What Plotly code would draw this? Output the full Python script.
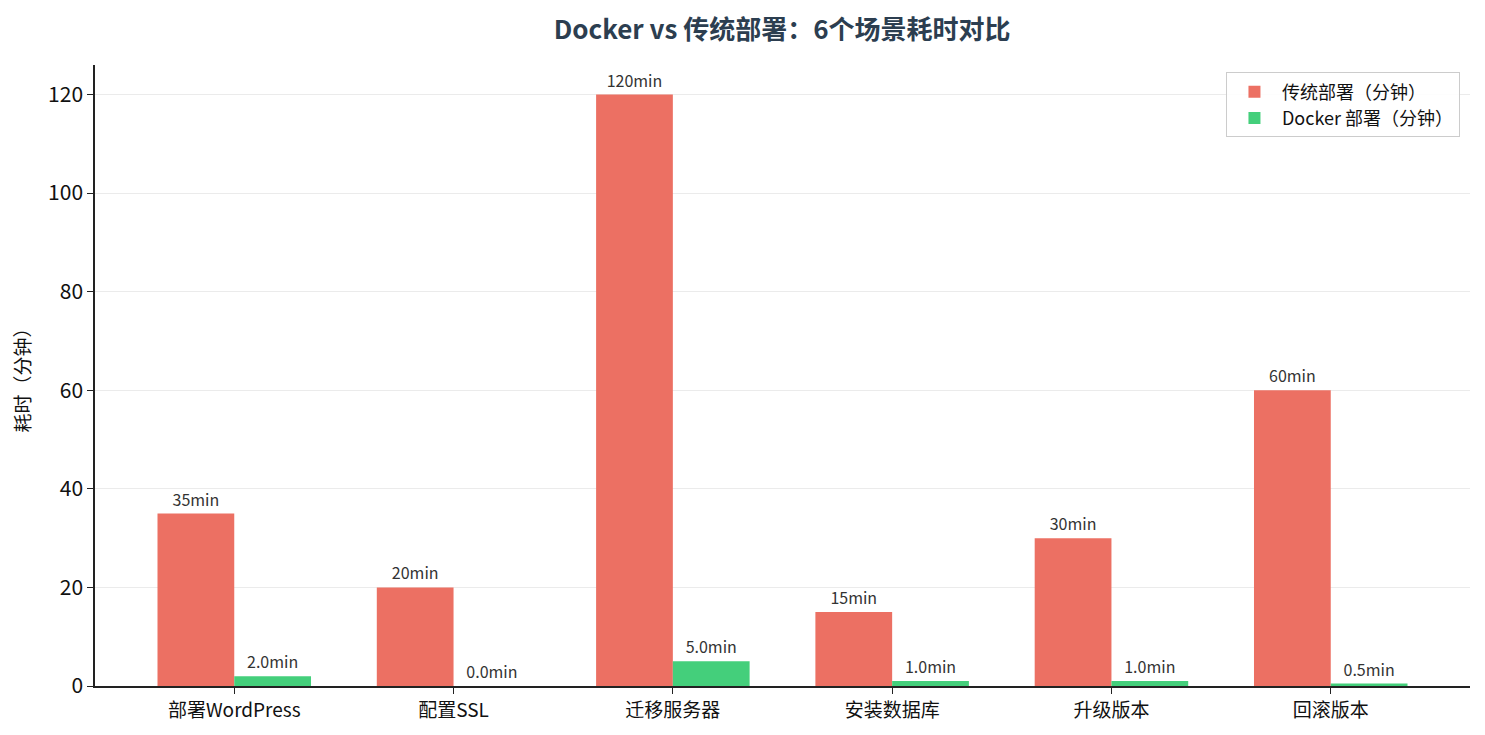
import plotly.graph_objects as go

# 场景与耗时数据（分钟）
scenarios = ["部署WordPress", "配置SSL", "迁移服务器", "安装数据库", "升级版本", "回滚版本"]
traditional_min = [35, 20, 120, 15, 30, 60]
docker_min = [2.0, 0.0, 5.0, 1.0, 1.0, 0.5]

FONT = "Noto Sans CJK SC"

fig = go.Figure()

fig.add_trace(go.Bar(
    x=scenarios,
    y=traditional_min,
    name="传统部署（分钟）",
    marker=dict(color="#EC7063", line=dict(width=0)),
    text=[f"{v}min" for v in traditional_min],
    textposition="outside",
    textfont=dict(size=16, color="#333333", family=FONT),
    cliponaxis=False,
))

fig.add_trace(go.Bar(
    x=scenarios,
    y=docker_min,
    name="Docker 部署（分钟）",
    marker=dict(color="#44CF7B", line=dict(width=0)),
    text=[f"{v:.1f}min" for v in docker_min],
    textposition="outside",
    textfont=dict(size=16, color="#333333", family=FONT),
    cliponaxis=False,
))

fig.update_layout(
    width=1469,
    height=719,
    paper_bgcolor="white",
    plot_bgcolor="white",
    font=dict(family=FONT, color="#111111"),
    barmode="group",
    bargap=0.3,
    bargroupgap=0,
    margin=dict(l=87, r=7, t=57, b=41),
    title=dict(
        text="<b>Docker vs 传统部署：6个场景耗时对比</b>",
        x=0.527, xanchor="center",
        y=0.969, yanchor="middle",
        font=dict(size=26, color="#2C3E50", family=FONT),
    ),
    legend=dict(
        x=0.9927, y=0.988, xanchor="right", yanchor="top",
        bgcolor="rgba(255,255,255,0.9)",
        bordercolor="#CCCCCC", borderwidth=1,
        font=dict(size=18, family=FONT, color="#111111"),
        traceorder="normal",
        itemwidth=45,
    ),
    xaxis=dict(
        range=[-0.635, 5.635],
        automargin=False,
        showline=True, linecolor="#222222", linewidth=1.5,
        ticks="outside", ticklen=6, tickcolor="#222222",
        showgrid=False,
        tickfont=dict(size=19, family=FONT, color="#111111"),
    ),
    yaxis=dict(
        range=[0, 126],
        automargin=False,
        tickvals=[0, 20, 40, 60, 80, 100, 120],
        showline=True, linecolor="#222222", linewidth=1.5,
        ticks="outside", ticklen=6, tickcolor="#222222",
        showgrid=True, gridcolor="#EBEBEB", gridwidth=1,
        zeroline=False,
        tickfont=dict(size=21, family=FONT, color="#111111"),
        title=dict(text="耗时（分钟）", font=dict(size=19, family=FONT, color="#111111"), standoff=14),
    ),
)

fig.write_html("out.html")
